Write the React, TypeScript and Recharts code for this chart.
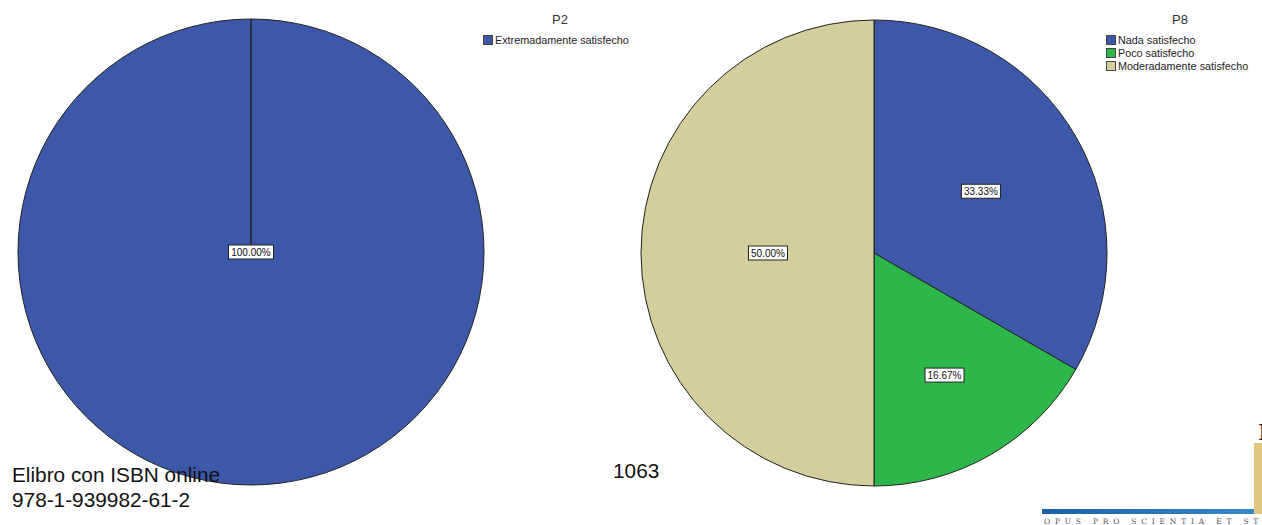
import React from 'react';
import { PieChart, Pie, Cell } from 'recharts';

const p2Title = 'P2';
const p2Categories = ['Extremadamente satisfecho'];
const p2Values = [100];
const p2Colors = ['#3e58a9'];

const p8Title = 'P8';
const p8Categories = ['Nada satisfecho', 'Poco satisfecho', 'Moderadamente satisfecho'];
const p8Values = [33.33, 16.67, 50.0];
const p8Colors = ['#3e58a9', '#2db74a', '#d3ce9b'];

const footerLines = ['Elibro con ISBN online', '978-1-939982-61-2'];
const pageNumber = '1063';
const logoText = 'OPUS PRO SCIENTIA ET STUDIUM';

const p2Data = p2Categories.map((name, i) => ({ name, value: p2Values[i] }));
const p8Data = p8Categories.map((name, i) => ({ name, value: p8Values[i] }));

const FONT = '"Liberation Sans", Arial, sans-serif';
const RAD = Math.PI / 180;

const renderLabel = (props: any) => {
  const { cx, cy, midAngle, outerRadius, percent } = props;
  let x = cx;
  let y = cy;
  if (percent < 0.9999) {
    const r = outerRadius * (0.68 - 0.45 * percent);
    x = cx + r * Math.cos(-midAngle * RAD);
    y = cy + r * Math.sin(-midAngle * RAD);
  }
  const text = (percent * 100).toFixed(2) + '%';
  const w = text.length * 6 + 3;
  const h = 14;
  return (
    <g>
      <rect x={x - w / 2} y={y - h / 2} width={w} height={h} fill="#ffffff" stroke="#222" strokeWidth={1} />
      <text x={x} y={y + 3.5} textAnchor="middle" fontSize={10} fontFamily={FONT} fill="#111">
        {text}
      </text>
    </g>
  );
};

const Legend = ({ x, y, titleX, title, items, colors }: any) => (
  <div>
    <div style={{ position: 'absolute', left: titleX - 30, top: y - 22, width: 60, textAlign: 'center', fontSize: 13, fontFamily: FONT, color: '#333' }}>
      {title}
    </div>
    {items.map((name: string, i: number) => (
      <div key={name} style={{ position: 'absolute', left: x, top: y + i * 13, height: 12, display: 'flex', alignItems: 'center', fontSize: 10.8, fontFamily: FONT, color: '#222', whiteSpace: 'nowrap' }}>
        <span style={{ display: 'inline-block', width: 10, height: 10, background: colors[i], border: '1px solid #444', marginRight: 2, boxSizing: 'border-box' }} />
        {name}
      </div>
    ))}
  </div>
);

export default function App() {
  return (
    <div style={{ position: 'absolute', left: 0, top: 0, width: 1262, height: 525, overflow: 'hidden', background: '#fff' }}>
      <PieChart width={1262} height={525}>
        <Pie
          data={p2Data}
          dataKey="value"
          nameKey="name"
          cx={246}
          cy={247}
          outerRadius={233}
          startAngle={90}
          endAngle={-270}
          stroke="#222"
          strokeWidth={1}
          label={renderLabel}
          labelLine={false}
          isAnimationActive={false}
        >
          {p2Data.map((d, i) => (
            <Cell key={d.name} fill={p2Colors[i]} />
          ))}
        </Pie>
        <Pie
          data={p8Data}
          dataKey="value"
          nameKey="name"
          cx={869}
          cy={248}
          outerRadius={233}
          startAngle={90}
          endAngle={-270}
          stroke="#222"
          strokeWidth={1}
          label={renderLabel}
          labelLine={false}
          isAnimationActive={false}
        >
          {p8Data.map((d, i) => (
            <Cell key={d.name} fill={p8Colors[i]} />
          ))}
        </Pie>
      </PieChart>

      <Legend x={483} y={34} titleX={560} title={p2Title} items={p2Categories} colors={p2Colors} />
      <Legend x={1106} y={34} titleX={1180} title={p8Title} items={p8Categories} colors={p8Colors} />

      {footerLines.map((line, i) => (
        <div key={line} style={{ position: 'absolute', left: 12, top: 463 + i * 25, fontSize: 20.8, fontFamily: FONT, color: '#111', whiteSpace: 'nowrap', lineHeight: '24px' }}>
          {line}
        </div>
      ))}
      <div style={{ position: 'absolute', left: 613, top: 459, fontSize: 20.8, fontFamily: FONT, color: '#111', lineHeight: '24px' }}>
        {pageNumber}
      </div>

      <svg style={{ position: 'absolute', left: 0, top: 0 }} width={1262} height={525}>
        <defs>
          <linearGradient id="logoBar" x1="0" x2="1" y1="0" y2="0">
            <stop offset="0" stopColor="#1d5fa8" />
            <stop offset="1" stopColor="#3a86cc" />
          </linearGradient>
        </defs>
        <rect x={1042} y={509} width={212} height={5} fill="url(#logoBar)" />
        <rect x={1254} y={443} width={8} height={71} fill="#e2c57e" />
        <text x={1258} y={440} fontSize={22} fontFamily="'DejaVu Serif', serif" fill="#222">I</text>
        <text x={1044} y={524} fontSize={7.5} fontFamily="'DejaVu Serif', serif" fill="#555" letterSpacing={4.8}>
          {logoText}
        </text>
      </svg>
    </div>
  );
}
